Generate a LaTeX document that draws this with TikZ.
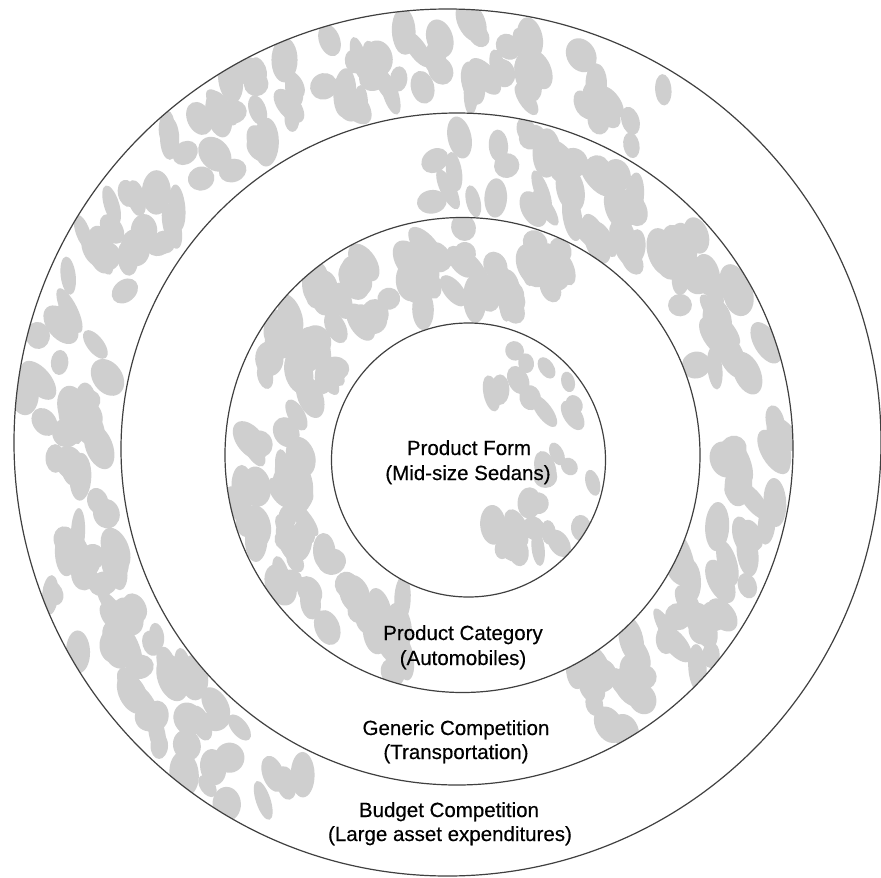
\documentclass[tikz,border=0pt]{standalone}
\usepackage{fontspec}
\setmainfont{Liberation Sans}
\newfontfamily\ringfont[FakeBold=0.35]{Liberation Sans}
\usetikzlibrary{calc}
\begin{document}
\begin{tikzpicture}[x=1pt,y=-1pt,
  ringline/.style={draw=black!75, line width=1.2pt},
  blot/.style={fill=black!19},
  ringtext/.style={anchor=base, inner sep=0pt, font=\ringfont\fontsize{20.5}{24}\selectfont}]
\useasboundingbox (0,0) rectangle (881,878);
\fill[white] (0,0) rectangle (881,878);

% centres of the four circles
\coordinate (C1) at (447.5,442.5);
\coordinate (C2) at (457,449);
\coordinate (C3) at (462.5,455);
\coordinate (C4) at (468.5,460);

\pgfmathsetseed{42}
% mottled shading, budget ring (left and top)
\begin{scope}[even odd rule]
  \clip (C1) circle[radius=433.5] (C2) circle[radius=336];
  \foreach \i in {1,...,170}{
    \pgfmathsetmacro{\ang}{112+190*rnd}
    \pgfmathsetmacro{\rad}{345+82*rnd}
    \pgfmathsetmacro{\len}{11+14*rnd}
    \pgfmathsetmacro{\wid}{7+8*rnd}
    \pgfmathsetmacro{\tilt}{-95+45*rnd}
    \fill[blot, shift={($(C1)+(\ang:\rad)$)}, rotate=\tilt] (0,0) ellipse[x radius=\len, y radius=\wid];
  }
\end{scope}
% mottled shading, generic ring (top and right)
\begin{scope}[even odd rule]
  \clip (C2) circle[radius=336] (C3) circle[radius=237.5];
  \foreach \i in {1,...,115}{
    \pgfmathsetmacro{\ang}{262+160*rnd}
    \pgfmathsetmacro{\rad}{248+80*rnd}
    \pgfmathsetmacro{\len}{11+14*rnd}
    \pgfmathsetmacro{\wid}{7+8*rnd}
    \pgfmathsetmacro{\tilt}{-95+45*rnd}
    \fill[blot, shift={($(C2)+(\ang:\rad)$)}, rotate=\tilt] (0,0) ellipse[x radius=\len, y radius=\wid];
  }
\end{scope}
% mottled shading, category ring (left)
\begin{scope}[even odd rule]
  \clip (C3) circle[radius=237.5] (C4) circle[radius=137];
  \foreach \i in {1,...,125}{
    \pgfmathsetmacro{\ang}{105+195*rnd}
    \pgfmathsetmacro{\rad}{148+82*rnd}
    \pgfmathsetmacro{\len}{11+14*rnd}
    \pgfmathsetmacro{\wid}{7+8*rnd}
    \pgfmathsetmacro{\tilt}{-95+45*rnd}
    \fill[blot, shift={($(C3)+(\ang:\rad)$)}, rotate=\tilt] (0,0) ellipse[x radius=\len, y radius=\wid];
  }
\end{scope}
% mottled shading, product form disc (right part)
\begin{scope}
  \clip (C4) circle[radius=137];
  \foreach \i in {1,...,30}{
    \pgfmathsetmacro{\ang}{-75+150*rnd}
    \pgfmathsetmacro{\rad}{65+70*rnd}
    \pgfmathsetmacro{\len}{9+11*rnd}
    \pgfmathsetmacro{\wid}{6+7*rnd}
    \pgfmathsetmacro{\tilt}{-95+45*rnd}
    \fill[blot, shift={($(C4)+(\ang:\rad)$)}, rotate=\tilt] (0,0) ellipse[x radius=\len, y radius=\wid];
  }
\end{scope}

% concentric circles
\draw[ringline] (C1) circle[radius=433.5];
\draw[ringline] (C2) circle[radius=336];
\draw[ringline] (C3) circle[radius=237.5];
\draw[ringline] (C4) circle[radius=137];

% labels
\node[ringtext] (pf1) at (469,455) {Product Form};
\node[ringtext] (pf2) at (468,480) {(Mid-size Sedans)};
\node[ringtext] (pc1) at (463,640) {Product Category};
\node[ringtext] (pc2) at (463,665) {(Automobiles)};
\node[ringtext] (gc1) at (456,735) {Generic Competition};
\node[ringtext] (gc2) at (456,759) {(Transportation)};
\node[ringtext] (bc1) at (449,817) {Budget Competition};
\node[ringtext] (bc2) at (450,841) {(Large asset expenditures)};
\end{tikzpicture}
\end{document}
